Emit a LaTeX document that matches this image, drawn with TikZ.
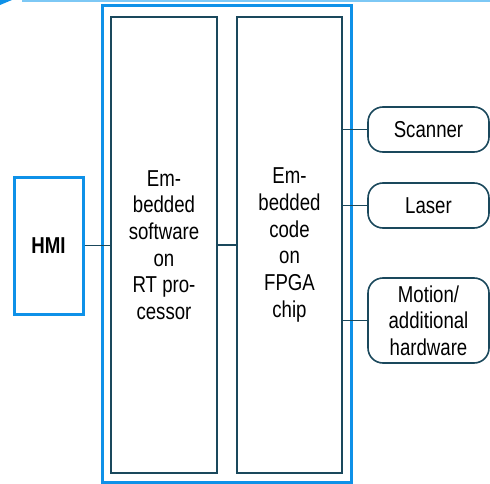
\documentclass[tikz,border=0pt]{standalone}
\usepackage{fontspec}
\setmainfont{Liberation Sans}[FakeStretch=0.81]
\definecolor{bblue}{RGB}{14,145,232}
\definecolor{lblue}{RGB}{125,200,245}
\definecolor{dteal}{RGB}{26,72,92}
\begin{document}
\begin{tikzpicture}[x=1pt,y=-1pt,
  txt/.style={font=\fontsize{23}{26.7}\selectfont, align=center, text=black},
  outerbox/.style={draw=bblue, line width=3pt, inner sep=0pt},
  innerbox/.style={draw=dteal, line width=1.6pt, inner sep=0pt, txt},
  devbox/.style={draw=dteal, line width=1.6pt, rounded corners=15pt, inner sep=0pt, minimum width=121pt, txt},
  conn/.style={draw=dteal, line width=1.8pt}]
\useasboundingbox (0,0) rectangle (490,484);
\fill[bblue] (0,0) -- (12,0) -- (0,5) -- cycle;
\draw[lblue, line width=2pt] (22,1) -- (490,1);
\node[outerbox, minimum width=249pt, minimum height=476pt] (outer) at (226.5,244) {};
\node[innerbox, minimum width=106pt, minimum height=456pt] (sw) at (164,245) {Em-\\bedded\\software\\on\\RT pro-\\cessor};
\node[innerbox, minimum width=105pt, minimum height=456pt] (fp) at (289.5,245) {Em-\\bedded\\code\\on\\FPGA\\chip};
\node[outerbox, minimum width=69pt, minimum height=137pt, txt, font=\fontsize{23}{26.7}\selectfont\bfseries] (hmi) at (48.5,245.5) {HMI};
\node[devbox, minimum height=45pt] (scan) at (428.5,129.5) {Scanner};
\node[devbox, minimum height=45pt] (laser) at (428.5,205.5) {Laser};
\node[devbox, minimum height=85pt] (motion) at (428.5,320.5) {Motion/\\additional\\hardware};
\draw[conn] (hmi.east) -- (hmi.east -| sw.west);
\draw[conn] (sw.east) -- (fp.west);
\draw[conn] (scan.west -| fp.east) -- (scan.west);
\draw[conn] (laser.west -| fp.east) -- (laser.west);
\draw[conn] (motion.west -| fp.east) -- (motion.west);
\end{tikzpicture}
\end{document}
